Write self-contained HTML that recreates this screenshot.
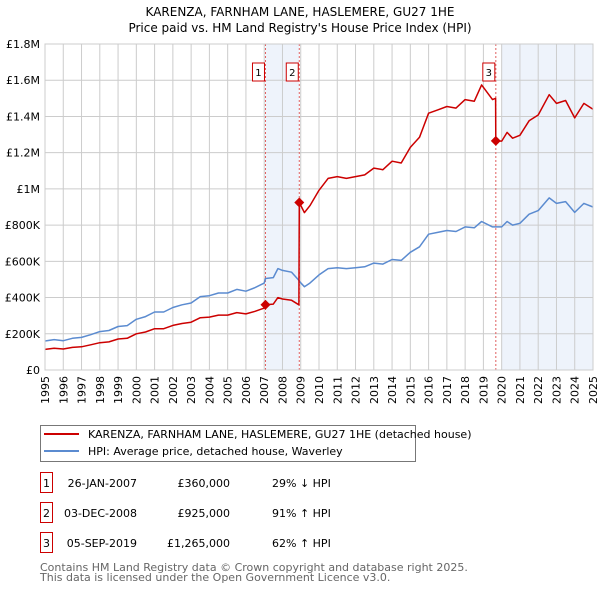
<!DOCTYPE html>
<html><head><meta charset="utf-8"><style>
body{margin:0;background:#fff;width:600px;height:590px;overflow:hidden;font-family:"DejaVu Sans","Liberation Sans",sans-serif;}
svg{position:absolute;left:0;top:0}
</style></head><body>
<svg id="chart" width="600" height="590" font-family="DejaVu Sans, Liberation Sans, sans-serif"></svg>
<script>
const years=[1995,1995.5,1996,1996.5,1997,1997.5,1998,1998.5,1999,1999.5,2000,2000.5,2001,2001.5,2002,2002.5,2003,2003.5,2004,2004.5,2005,2005.5,2006,2006.5,2007,2007.07,2007.5,2007.75,2008,2008.5,2008.9,2008.92,2009.2,2009.5,2010,2010.5,2011,2011.5,2012,2012.5,2013,2013.5,2014,2014.5,2015,2015.5,2016,2016.5,2017,2017.5,2018,2018.5,2018.9,2019.5,2019.67,2019.68,2020,2020.3,2020.6,2021,2021.5,2022,2022.6,2023,2023.5,2024,2024.5,2025];
const hpiValues=[160,168,162,175,180,195,212,218,240,245,280,295,320,320,345,360,370,405,410,425,425,445,435,455,480,505,510,560,550,540,495,490,460,480,525,560,565,560,565,570,590,585,610,605,650,680,750,760,770,765,790,785,820,790,790,790,790,820,800,810,860,880,950,920,930,870,920,900];
const propertyValues=[114,120,116,125,128,139,151,155,171,175,200,210,228,228,246,257,264,289,292,303,303,317,310,324,342,360,364,400,392,385,360,925,869,907,992,1058,1068,1058,1068,1077,1115,1106,1153,1143,1229,1285,1418,1436,1455,1446,1493,1484,1574,1493,1500,1265,1264,1312,1280,1296,1376,1408,1520,1472,1488,1392,1472,1440];
const sales=[{n:"1",t:2007.07,v:360},{n:"2",t:2008.92,v:925},{n:"3",t:2019.68,v:1265}];
const yTicks=[0,200,400,600,800,1000,1200,1400,1600,1800];
const yTickLabels=["£0","£200K","£400K","£600K","£800K","£1M","£1.2M","£1.4M","£1.6M","£1.8M"];
const xTicks=[1995,1996,1997,1998,1999,2000,2001,2002,2003,2004,2005,2006,2007,2008,2009,2010,2011,2012,2013,2014,2015,2016,2017,2018,2019,2020,2021,2022,2023,2024,2025];
const rows=[["1","26-JAN-2007","£360,000","29% ↓ HPI"],["2","03-DEC-2008","£925,000","91% ↑ HPI"],["3","05-SEP-2019","£1,265,000","62% ↑ HPI"]];

const L=45,R=593,T=44,B=370;
const X=t=>L+(t-1995)/30*(R-L);
const Y=v=>B-v/1800*(B-T);
const svg=document.getElementById('chart');
const NS="http://www.w3.org/2000/svg";
function mk(tag,attrs,text){const e=document.createElementNS(NS,tag);for(const k in attrs)e.setAttribute(k,attrs[k]);if(text!==undefined)e.textContent=text;svg.appendChild(e);return e;}

let e;
e=mk('text',{x:300,y:16,'text-anchor':'middle','font-size':12,fill:'#000'},'KARENZA, FARNHAM LANE, HASLEMERE, GU27 1HE');


e=mk('text',{x:300,y:32,'text-anchor':'middle','font-size':12,fill:'#000'},"Price paid vs. HM Land Registry's House Price Index (HPI)");



// shaded bands
e=mk('rect',{x:X(sales[0].t),y:T,width:X(sales[1].t)-X(sales[0].t),height:B-T,fill:'#eef3fb'});


e=mk('rect',{x:X(2020),y:T,width:R-X(2020),height:B-T,fill:'#eef3fb'});



// grid
xTicks.forEach(t=>{e=mk('line',{x1:X(t),x2:X(t),y1:T,y2:B,stroke:'#cccccc','stroke-width':1});


e=mk('text',{transform:`translate(${X(t)+4},376) rotate(-90)`,'text-anchor':'end','font-size':11,fill:'#000'},String(t));

});
yTicks.forEach((v,i)=>{e=mk('line',{x1:L,x2:R,y1:Y(v),y2:Y(v),stroke:'#cccccc','stroke-width':1});


e=mk('text',{x:40,y:Y(v)+4,'text-anchor':'end','font-size':11,fill:'#000'},yTickLabels[i]);

});

// sale lines
sales.forEach(s=>{e=mk('line',{x1:X(s.t),x2:X(s.t),y1:T,y2:B,stroke:'#e06060','stroke-width':1,'stroke-dasharray':'2,2'});

});

function path(vals){return vals.map((v,i)=>(i?'L':'M')+X(years[i]).toFixed(1)+','+Y(v).toFixed(1)).join(' ');}
e=mk('path',{d:path(hpiValues),fill:'none',stroke:'#5b8bd0','stroke-width':1.5,'stroke-linejoin':'round'});


e=mk('path',{d:path(propertyValues),fill:'none',stroke:'#cc0000','stroke-width':1.5,'stroke-linejoin':'round'});



sales.forEach(s=>{const cx=X(s.t),cy=Y(s.v);
e=mk('polygon',{points:`${cx},${cy-5} ${cx+5},${cy} ${cx},${cy+5} ${cx-5},${cy}`,fill:'#cc0000'});


const bx=cx-14;
e=mk('rect',{x:bx+1,y:63,width:12,height:18,fill:'#fff',stroke:'#cc0000','stroke-width':1});


e=mk('text',{x:bx+7,y:76,'text-anchor':'middle','font-size':10,fill:'#000'},s.n);

});

e=mk('rect',{x:L,y:T,width:R-L,height:B-T,fill:'none',stroke:'#cccccc'});



// legend
e=mk('rect',{x:40.5,y:425.5,width:375,height:36,fill:'#fff',stroke:'#777'});


e=mk('line',{x1:44,x2:79,y1:434,y2:434,stroke:'#cc0000','stroke-width':2});


e=mk('text',{x:88,y:438,'font-size':11,fill:'#000'},'KARENZA, FARNHAM LANE, HASLEMERE, GU27 1HE (detached house)');


e=mk('line',{x1:44,x2:79,y1:451,y2:451,stroke:'#5b8bd0','stroke-width':2});


e=mk('text',{x:88,y:455,'font-size':11,fill:'#000'},'HPI: Average price, detached house, Waverley');



rows.forEach((r,i)=>{const y=483+i*30;
e=mk('rect',{x:40.5,y:y-10.5,width:12,height:20,fill:'#fff',stroke:'#cc0000'});


e=mk('text',{x:46.5,y:y+4,'text-anchor':'middle','font-size':11},r[0]);


e=mk('text',{x:137,y:y+4,'text-anchor':'end','font-size':11},r[1]);


e=mk('text',{x:230,y:y+4,'text-anchor':'end','font-size':11},r[2]);


e=mk('text',{x:272,y:y+4,'font-size':11},r[3]);

});

e=mk('text',{x:40,y:571,'font-size':11,fill:'#666'},'Contains HM Land Registry data © Crown copyright and database right 2025.');


e=mk('text',{x:40,y:581,'font-size':11,fill:'#666'},'This data is licensed under the Open Government Licence v3.0.');


</script>
</body></html>
